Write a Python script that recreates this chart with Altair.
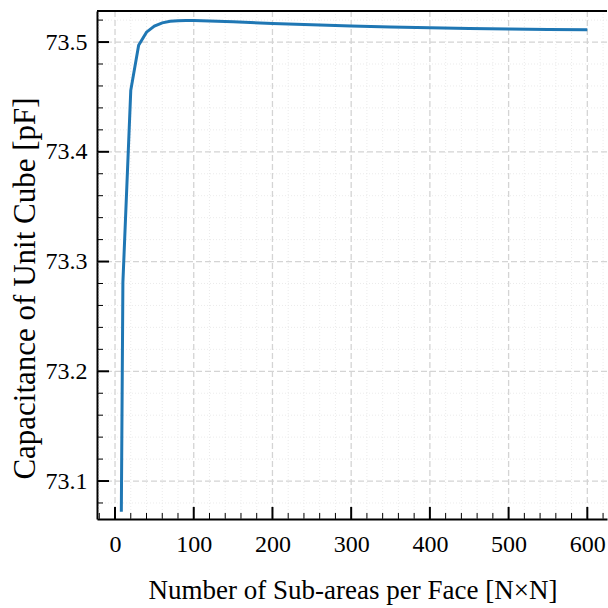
import altair as alt
import pandas as pd

# Data
N = [8, 10, 20, 30, 40, 50, 60, 70, 80, 90, 100, 150, 200, 250, 300, 350, 400, 450, 500, 550, 600]
C = [73.072, 73.281, 73.456, 73.497, 73.509, 73.5145, 73.5175, 73.519, 73.5195, 73.5197, 73.5196,
     73.5185, 73.517, 73.5157, 73.5146, 73.5137, 73.513, 73.5124, 73.5119, 73.5115, 73.5112]

x_major = [0, 100, 200, 300, 400, 500, 600]
x_minor = [v for v in range(-20, 640, 20) if v % 100 != 0]
y_major = [73.1, 73.2, 73.3, 73.4, 73.5]
y_minor = [round(73.08 + 0.02 * i, 2) for i in range(23) if (i + 4) % 5 != 0]

x_title = "Number of Sub-areas per Face [N×N]"
y_title = "Capacitance of Unit Cube [pF]"

W, H = 510, 508
FONT = "Liberation Serif, Times New Roman, serif"

df = pd.DataFrame({"N": N, "C": C})
xmaj = pd.DataFrame({"N": x_major})
xmin = pd.DataFrame({"N": x_minor})
ymaj = pd.DataFrame({"C": y_major})
ymin = pd.DataFrame({"C": y_minor})

xs = alt.Scale(domain=[-22.9, 625], nice=False, zero=False)
ys = alt.Scale(domain=[73.0654, 73.5283], nice=False, zero=False)

xaxis = alt.Axis(
    values=x_major, ticks=False, grid=False, domain=True, domainColor="black", domainWidth=2,
    labelFont=FONT, labelFontSize=24, labelColor="black", labelPadding=13,
    title=x_title, titleFont=FONT, titleFontSize=27, titleFontWeight="normal", titleColor="black",
    titleX=255.5, titleY=79, titleBaseline="alphabetic", titleAlign="center")
yaxis = alt.Axis(
    values=y_major, format=".1f", ticks=False, grid=False, domain=True, domainColor="black", domainWidth=2,
    labelFont=FONT, labelFontSize=24, labelColor="black", labelPadding=10,
    title=y_title, titleFont=FONT, titleFontSize=31, titleFontWeight="normal", titleColor="black",
    titleX=-63, titleY=277, titleAngle=270, titleBaseline="alphabetic", titleAlign="center")

X = alt.X("N:Q", scale=xs, axis=xaxis)
Y = alt.Y("C:Q", scale=ys, axis=yaxis)

grid_minor_x = alt.Chart(xmin).mark_rule(color="#e6e6e6", strokeWidth=0.8, strokeDash=[1, 2]).encode(x=X)
grid_minor_y = alt.Chart(ymin).mark_rule(color="#e6e6e6", strokeWidth=0.8, strokeDash=[1, 2]).encode(y=Y)
grid_major_x = alt.Chart(xmaj).mark_rule(color="#d4d4d4", strokeWidth=1.3, strokeDash=[6, 3]).encode(x=X)
grid_major_y = alt.Chart(ymaj).mark_rule(color="#d4d4d4", strokeWidth=1.3, strokeDash=[6, 3]).encode(y=Y)

line = alt.Chart(df).mark_line(color="#1f77b4", strokeWidth=3).encode(x=X, y=Y)

# inward ticks
tick_x_major = alt.Chart(xmaj).mark_rule(color="black", strokeWidth=2).encode(
    x=X, y=alt.value(H), y2=alt.value(H - 12))
tick_x_minor = alt.Chart(xmin).mark_rule(color="black", strokeWidth=1).encode(
    x=X, y=alt.value(H), y2=alt.value(H - 6))
tick_y_major = alt.Chart(ymaj).mark_rule(color="black", strokeWidth=2).encode(
    y=Y, x=alt.value(0), x2=alt.value(12))
tick_y_minor = alt.Chart(ymin).mark_rule(color="black", strokeWidth=1).encode(
    y=Y, x=alt.value(0), x2=alt.value(6))

top_spine = alt.Chart(xmaj).mark_rule(color="black", strokeWidth=2).encode(
    x=alt.value(0), x2=alt.value(W), y=alt.value(0))

chart = alt.layer(
    grid_minor_x, grid_minor_y, grid_major_x, grid_major_y, line,
    tick_x_major, tick_x_minor, tick_y_major, tick_y_minor, top_spine
).properties(
    width=W, height=H,
    autosize=alt.AutoSizeParams(type="none"),
    padding={"left": 97, "top": 11, "right": 1, "bottom": 89},
    background="white",
).configure_view(stroke=None)

chart.save("out.html", embed_options={"renderer": "svg", "actions": False})
